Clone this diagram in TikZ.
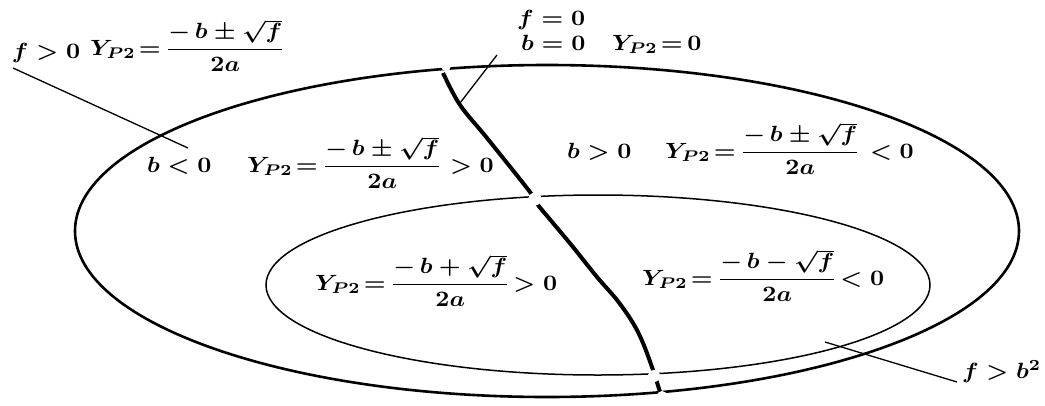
\documentclass[tikz,border=0pt]{standalone}
\usepackage{amsmath}
\usepackage{graphicx}
\newcommand{\wid}[1]{\scalebox{2.45}[2.2]{\boldmath#1}}
\newcommand{\yp}{Y_{P2}\mathrel{\mkern-3mu=\mkern-2mu}}
\newcommand{\nm}[1]{{-}\,b#1\sqrt{f}}
\tikzset{
  lbl/.style={inner sep=0pt, outer sep=0pt, anchor=base west},
  outerline/.style={line width=2.6pt},
  innerline/.style={line width=1.5pt},
  divline/.style={line width=4pt},
  leader/.style={line width=1.3pt},
  gapdot/.style={fill=white, draw=none},
}
\begin{document}
\begin{tikzpicture}[x=1pt,y=-1pt]
\useasboundingbox (0,0) rectangle (1045,405);
% regions
\draw[outerline] (547,231) ellipse [x radius=472pt, y radius=166pt];
\draw[innerline] (598,285) ellipse [x radius=332pt, y radius=90pt];
\fill[gapdot] (446,66) circle (5pt);
% divider b = 0
\draw[divline] plot[smooth, tension=0.55] coordinates {(443,73) (460,105) (487,138) (530,192) (538,205) (553,223) (573,247) (597,277) (617,300) (633,323) (643,343) (653,370) (660,392)};
\fill[gapdot] (535,199) circle (6.5pt);
\fill[gapdot] (654,376) circle (6pt);
\fill[gapdot] (662,396) circle (5pt);
% labels
\node[lbl] (n1) at (12,58) {\wid{$f > 0$}};
\node[lbl] (n2) at (90,55) {\wid{$\yp\dfrac{\nm{\pm}}{2a}$}};
\node[lbl] (n3) at (517,25) {\wid{$f = 0$}};
\node[lbl] (n4) at (521,50) {\wid{$b = 0$}};
\node[lbl] (n5) at (612,50) {\wid{$\yp 0$}};
\node[lbl] (n6) at (147,172) {\wid{$b < 0$}};
\node[lbl] (n7) at (247,172) {\wid{$\yp\dfrac{\nm{\pm}}{2a}$}};
\node[lbl] (n8) at (450,172) {\wid{$> 0$}};
\node[lbl] (n9) at (567,158) {\wid{$b > 0$}};
\node[lbl] (n10) at (665,158) {\wid{$\yp\dfrac{\nm{\pm}}{2a}$}};
\node[lbl] (n11) at (870,158) {\wid{$< 0$}};
\node[lbl] (n12) at (315,290) {\wid{$\yp\dfrac{\nm{+}}{2a}\mathrel{\mkern-3mu>}0$}};
\node[lbl] (n13) at (642,285) {\wid{$\yp\dfrac{\nm{-}}{2a}\mathrel{\mkern-3mu<}0$}};
\node[lbl] (n14) at (962,378) {\wid{$f > b^2$}};
% leaders
\coordinate (a1) at (13,68);
\coordinate (a2) at (188,148);
\coordinate (b1) at (497,55);
\coordinate (b2) at (460,103);
\coordinate (c1) at (957,382);
\coordinate (c2) at (825,342);
\draw[leader] (a1) -- (a2);
\draw[leader] (b1) -- (b2);
\draw[leader] (c1) -- (c2);
\end{tikzpicture}
\end{document}
